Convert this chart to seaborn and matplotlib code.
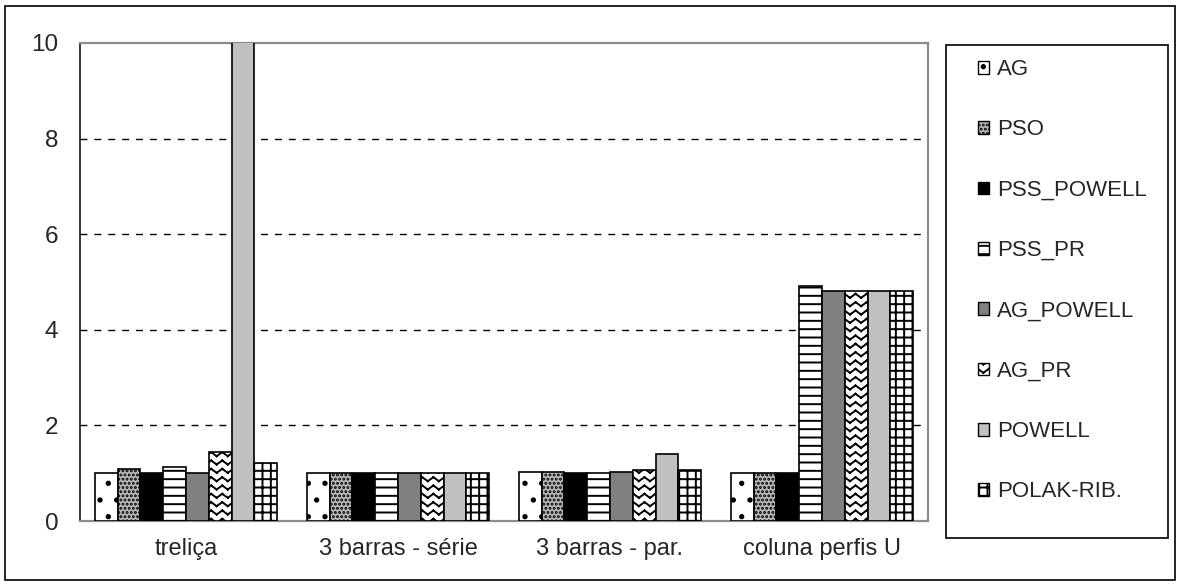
import warnings
import numpy as np
import pandas as pd
import matplotlib
matplotlib.use("Agg")
import matplotlib.pyplot as plt
import matplotlib.hatch as mhatch
from matplotlib.path import Path
from matplotlib.patches import Patch, Rectangle
import seaborn as sns

warnings.filterwarnings("ignore")

# ---- data -------------------------------------------------------------
categories = ["treliça", "3 barras - série", "3 barras - par.", "coluna perfis U"]
methods = ["AG", "PSO", "PSS_POWELL", "PSS_PR", "AG_POWELL", "AG_PR", "POWELL", "POLAK-RIB."]

ag         = [1.00, 1.00, 1.03, 1.00]
pso        = [1.08, 1.00, 1.03, 1.00]
pss_powell = [1.00, 1.00, 1.00, 1.00]
pss_pr     = [1.14, 1.00, 1.00, 4.92]
ag_powell  = [1.00, 1.00, 1.03, 4.82]
ag_pr      = [1.44, 1.00, 1.07, 4.82]
powell     = [12.0, 1.00, 1.41, 4.82]
polak_rib  = [1.21, 1.00, 1.07, 4.82]

yticks = [0, 2, 4, 6, 8, 10]

series = [ag, pso, pss_powell, pss_pr, ag_powell, ag_pr, powell, polak_rib]
df = pd.DataFrame(
    [(c, m, v) for m, vals in zip(methods, series) for c, v in zip(categories, vals)],
    columns=["caso", "metodo", "valor"],
)

# ---- fill styles ------------------------------------------------------
facecolors = ["white", "#b8b8b8", "black", "white", "#808080", "white", "#c0c0c0", "white"]
hatches = [".", "....", "", "--", "", "zz", "", "++"]


class ZigzagHatch(mhatch.HatchPatternBase):
    """Horizontal zigzag rows, selected with the 'z' hatch character.

    Each stroke is its own two-point sub-path so that the fill pass of the
    hatch renderer covers no area.
    """

    def __init__(self, hatch, density):
        self.num_rows = int(hatch.count("z") * density)
        self.teeth = max(1, int(self.num_rows * 0.75))
        self.num_vertices = self.num_rows * self.teeth * 2 * 2

    def set_vertices_and_codes(self, vertices, codes):
        n, t = self.num_rows, self.teeth
        xs = np.linspace(0.0, 1.0, 2 * t + 1)
        amp = 0.24 / n
        sign = np.where(np.arange(2 * t + 1) % 2 == 0, 1.0, -1.0)
        k = 0
        for r in range(n):
            y0 = (r + 0.5) / n
            ys = y0 + amp * sign
            for j in range(2 * t):
                vertices[k] = (xs[j], ys[j])
                vertices[k + 1] = (xs[j + 1], ys[j + 1])
                codes[k] = Path.MOVETO
                codes[k + 1] = Path.LINETO
                k += 2


mhatch._hatch_types.append(ZigzagHatch)

# ---- figure -----------------------------------------------------------
sns.set_style("white")
plt.rcParams["font.family"] = ["Liberation Sans", "DejaVu Sans"]
plt.rcParams["hatch.color"] = "black"
plt.rcParams["hatch.linewidth"] = 1.4

fig = plt.figure(figsize=(11.8, 5.85), dpi=100)
ax = fig.add_axes([0.0678, 0.1094, 0.7186, 0.8171])

sns.barplot(
    data=df, x="caso", y="valor", hue="metodo",
    order=categories, hue_order=methods,
    palette=dict(zip(methods, facecolors)), saturation=1,
    width=0.86, edgecolor="black", linewidth=1.2,
    errorbar=None, legend=False, ax=ax, zorder=3,
)
for container, h in zip(ax.containers, hatches):
    for bar in container:
        bar.set_hatch(h)

ax.set_ylim(0, 10)
ax.set_xlim(-0.5, len(categories) - 0.5)
ax.set_yticks(yticks)
ax.set_xlabel("")
ax.set_ylabel("")

# dashed gridlines at interior ticks only
for y in yticks[1:-1]:
    ax.axhline(y, color="black", lw=1, linestyle=(0, (5, 5)), zorder=1)

ax.set_xticks(np.arange(-0.5, len(categories), 1.0), minor=True)
ax.tick_params(axis="x", which="major", length=0, pad=12, labelsize=17)
ax.tick_params(axis="x", which="minor", length=6, direction="out", color="#808080", width=1.2)
ax.tick_params(axis="y", length=6.5, direction="out", color="black", width=1, pad=9, labelsize=17.5)

for side in ["top", "right", "bottom"]:
    ax.spines[side].set_color("#8c8c8c")
    ax.spines[side].set_linewidth(1.6)
ax.spines["left"].set_color("black")
ax.spines["left"].set_linewidth(1.1)

# outer frame of the figure
fig.add_artist(Rectangle((0.0042, 0.0085), 0.9915, 0.981, transform=fig.transFigure,
                         fill=False, ec="black", lw=1.2))

# legend box and entries
fig.add_artist(Rectangle((0.8017, 0.0803), 0.188, 0.8427, transform=fig.transFigure,
                         fill=False, ec="black", lw=1.2))
handles = [Patch(facecolor=fc, edgecolor="black", hatch=h, lw=1)
           for fc, h in zip(facecolors, hatches)]
fig.legend(handles, methods, loc="upper left", bbox_to_anchor=(0.829, 0.899),
           frameon=False, fontsize=16, handlelength=0.5, handleheight=0.5,
           handletextpad=0.36, labelspacing=1.77, borderpad=0, borderaxespad=0)

fig.savefig("out.png", dpi=100)
